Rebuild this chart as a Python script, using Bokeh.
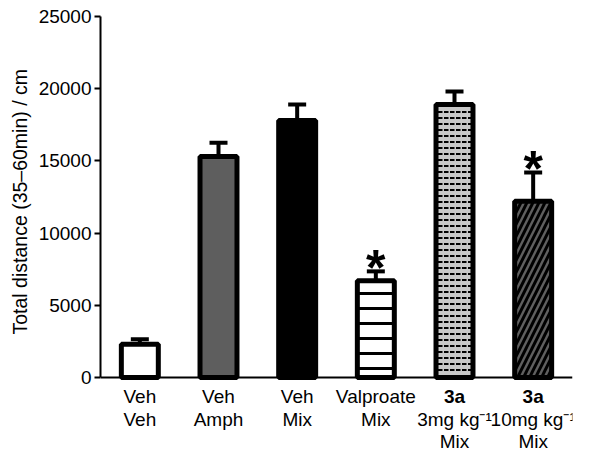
from bokeh.plotting import figure
from bokeh.models import (ColumnDataSource, Range1d, FixedTicker, Whisker, TeeHead, Span, Title)
from bokeh.core.properties import value
from bokeh.embed import file_html
from bokeh.resources import INLINE

# ---- data ----
line1 = ["Veh", "Veh", "Veh", "Valproate", "3a", "3a"]
line2 = ["Veh", "Amph", "Mix", "Mix", "3mg kg\u207b\u00b9", "10mg kg\u207b\u00b9"]
line3 = ["", "", "", "", "Mix", "Mix"]
means = [2300, 15300, 17800, 6700, 18900, 12200]
errors = [350, 950, 1100, 650, 900, 2000]
significant = [False, False, False, True, False, True]
y_ticks = [0, 5000, 10000, 15000, 20000, 25000]
y_label = "Total distance (35\u201360min) / cm"

# ---- styles ----
fills = ["white", "#5e5e5e", "black", "white", "#c8c8c8", "#606060"]
hatches = [" ", " ", " ", "horizontal_line", "horizontal_dash", "right_diagonal_line"]
hscales = [12, 12, 12, 15, 6, 12]
hweights = [1, 1, 1, 3, 2, 3]

FONT = "Liberation Sans"
n = len(means)
xs = [i + 0.5 for i in range(n)]
src = ColumnDataSource(dict(
    x=xs, top=means, upper=[m + e for m, e in zip(means, errors)],
    fill=fills, hatch=hatches, hscale=hscales, hweight=hweights,
))

# frame extends below zero so that the multi-line category labels can be drawn as text
Y_MAX = 25000
Y_MIN = -5194
p = figure(width=584, height=452, output_backend="svg", toolbar_location=None,
           x_range=Range1d(0, n), y_range=Range1d(Y_MIN, Y_MAX),
           min_border_left=100, min_border_right=12, min_border_top=16, min_border_bottom=0)
p.outline_line_color = None
p.grid.visible = False
p.background_fill_color = "white"
p.xaxis.visible = False

p.vbar(x="x", top="top", width=0.47, bottom=0, source=src,
       fill_color="fill", line_color="black", line_width=5,
       hatch_pattern="hatch", hatch_scale="hscale", hatch_weight="hweight",
       hatch_color="black")

wh = Whisker(base="x", lower="top", upper="upper", source=src, dimension="height",
             line_width=4, line_color="black",
             upper_head=TeeHead(size=18, line_width=4, line_color="black"),
             lower_head=None, level="annotation")
p.add_layout(wh)

# x axis line
p.add_layout(Span(location=0, dimension="width", line_color="black", line_width=2))

sig_x = [x for x, s in zip(xs, significant) if s]
sig_y = [m + e for m, e, s in zip(means, errors, significant) if s]
p.text(x=sig_x, y=sig_y, text=["*"] * len(sig_x), text_font=value(FONT),
       text_font_size="50px", text_font_style="bold", text_align="center",
       text_baseline="alphabetic", y_offset=-3, text_color="black")

# y axis
ya = p.yaxis[0]
ya.bounds = (0, Y_MAX)
ya.ticker = FixedTicker(ticks=y_ticks)
ya.minor_tick_line_color = None
ya.major_tick_in = 0
ya.major_tick_out = 6
ya.major_tick_line_width = 2
ya.axis_line_width = 2
ya.major_label_standoff = 3
ya.major_label_text_font = FONT
ya.major_label_text_font_size = "19px"
ya.major_label_text_color = "black"

# y axis title (placed as a side title so it can be centred on the 0..25000 part)
p.add_layout(Title(text=y_label, align="left", offset=118, text_font=FONT,
                   text_font_size="19.5px", text_font_style="normal",
                   text_color="black", standoff=10), "left")

# category labels (three rows under each bar)
row_y = [-1310, -2900, -4400]
for r, texts in enumerate([line1, line2, line3]):
    norm_x = [x for x, t in zip(xs, texts) if t and not (r == 0 and t == "3a")]
    norm_t = [t for t in texts if t and not (r == 0 and t == "3a")]
    bold_x = [x for x, t in zip(xs, texts) if r == 0 and t == "3a"]
    bold_t = [t for t in texts if r == 0 and t == "3a"]
    if norm_t:
        p.text(x=norm_x, y=[row_y[r]] * len(norm_x), text=norm_t, text_font=value(FONT),
               text_font_size="19px", text_align="center", text_baseline="middle",
               text_color="black")
    if bold_t:
        p.text(x=bold_x, y=[row_y[r]] * len(bold_x), text=bold_t, text_font=value(FONT),
               text_font_size="19px", text_font_style="bold", text_align="center",
               text_baseline="middle", text_color="black")

open("out.html", "w").write(file_html(p, INLINE))
